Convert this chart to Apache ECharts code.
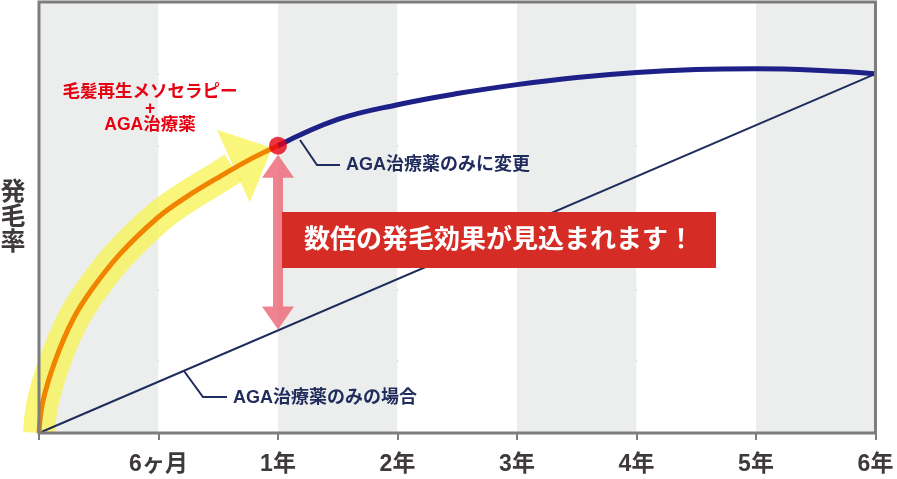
<!DOCTYPE html>
<html><head><meta charset="utf-8">
<script src="https://cdn.jsdelivr.net/npm/echarts@6/dist/echarts.min.js"></script>
<style>html,body{margin:0;padding:0;background:#fff}#c{width:897px;height:479px}</style>
</head><body><div id="c"></div>
<script>
// ---- data (x: 0 = start, 1 = 6ヶ月, 2 = 1年, 3 = 2年 ... 7 = 6年; y: 発毛率 grid units) ----
const tickLabels = ['', '6ヶ月', '1年', '2年', '3年', '4年', '5年', '6年'];
const combinedCurve = [[0,0],[0.03,0.42],[0.134,1.0],[0.284,1.58],[0.443,2.0],[0.677,2.49],[0.995,3.0],[1.237,3.29],[1.513,3.57],[1.789,3.83],[2,4]];
const yellowBand = [[0,0],[0.03,0.42],[0.134,1.0],[0.284,1.58],[0.443,2.0],[0.677,2.49],[0.995,3.0],[1.237,3.29],[1.513,3.57],[1.626,3.69]];
const yellowHead = [[1.488,4.22],[1.95,3.97],[1.764,3.21]];
const afterSwitch = [[2,4],[2.5,4.365],[3,4.57],[3.5,4.725],[4,4.85],[4.5,4.95],[5,5.02],[5.5,5.06],[6,5.07],[6.5,5.05],[7,5]];
const agaOnly = [[0,0],[7,5]];
const switchPoint = [[2,4]];
const gapArrow = [[2,3.875,1.44]];

const FONT = "'Liberation Sans','Noto Sans CJK JP',sans-serif";
const G = {left:39, top:2, right:21.5, bottom:46};
const W = 897, H = 479;

const chart = echarts.init(document.getElementById('c'));
chart.setOption({
  animation: false,
  backgroundColor: '#ffffff',
  grid: {left:G.left, top:G.top, right:G.right, bottom:G.bottom, containLabel:false},
  xAxis: {
    type:'value', min:0, max:7, interval:1,
    axisLine:{show:false},
    axisTick:{show:true, length:7, lineStyle:{color:'#7d7d7d', width:2}},
    axisLabel:{show:true, margin:20, fontSize:23, fontWeight:'bold', color:'#3e3a39', fontFamily:FONT,
      showMinLabel:true, showMaxLabel:true, hideOverlap:false,
      formatter:(v)=>tickLabels[Math.round(v)] || ''},
    splitLine:{show:false},
    splitArea:{show:true, areaStyle:{color:['#eceeed','#ffffff']}}
  },
  yAxis: {
    type:'value', min:0, max:6, interval:1,
    axisLine:{show:false}, axisTick:{show:false}, axisLabel:{show:false},
    splitLine:{show:true, lineStyle:{color:'#8f8f8f', width:2}}
  },
  series: [
    {type:'line', data:yellowBand, smooth:0.35, showSymbol:false, symbol:'none', clip:true,
      lineStyle:{color:'rgba(248,243,80,0.75)', width:32, cap:'butt'}, z:2, silent:true},
    {type:'custom', data:yellowHead, z:2, silent:true,
      renderItem:(params, api)=>{
        if (params.dataIndex !== 0) return null;
        const pts = yellowHead.map(p=>api.coord(p));
        return {type:'polygon', shape:{points:pts}, style:{fill:'rgba(248,243,80,0.75)'}};
      }},
    {type:'line', data:agaOnly, showSymbol:false, symbol:'none',
      lineStyle:{color:'#1f2c5c', width:2}, z:3},
    {type:'line', data:combinedCurve, smooth:0.35, showSymbol:false, symbol:'none',
      lineStyle:{color:'#f08300', width:5}, z:4},
    {type:'line', data:afterSwitch, smooth:0.4, showSymbol:false, symbol:'none',
      lineStyle:{color:'#1d2087', width:5}, z:4},
    {type:'custom', data:gapArrow, encode:{x:0, y:[1,2]}, z:5, silent:true,
      renderItem:(params, api)=>{
        const x = api.value(0);
        const top = api.coord([x, api.value(1)]);
        const bot = api.coord([x, api.value(2)]);
        const cx = top[0], hw = 16, sw = 5, hl = 23;
        const pts = [[cx, top[1]],[cx+hw, top[1]+hl],[cx+sw, top[1]+hl],[cx+sw, bot[1]-hl],[cx+hw, bot[1]-hl],
                     [cx, bot[1]],[cx-hw, bot[1]-hl],[cx-sw, bot[1]-hl],[cx-sw, top[1]+hl],[cx-hw, top[1]+hl]];
        return {type:'polygon', shape:{points:pts}, style:{fill:'rgba(236,104,118,0.82)'}};
      }},
    {type:'scatter', data:switchPoint, symbol:'circle', symbolSize:18,
      itemStyle:{color:'#e60012'}, z:6}
  ],
  graphic: [
    {type:'rect', z:100, silent:true,
      shape:{x:G.left, y:G.top, width:W-G.left-G.right, height:H-G.top-G.bottom},
      style:{fill:'none', stroke:'#7d7d7d', lineWidth:3}},
    {type:'text', z:100, style:{text:'発\n毛\n率', x:13, y:218, align:'center', verticalAlign:'middle',
      fontSize:25, fontWeight:'bold', lineHeight:25, fontFamily:FONT, fill:'#3e3a39'}},
    {type:'text', z:100, style:{text:'毛髪再生メソセラピー\n+\nAGA治療薬', x:150, y:109, align:'center', verticalAlign:'middle',
      fontSize:17.5, fontWeight:'bold', lineHeight:16.5, fontFamily:FONT, fill:'#e60012'}},
    {type:'polyline', z:100, shape:{points:[[300,140],[317,165],[340,165]]}, style:{stroke:'#1f2c5c', lineWidth:2, fill:'none'}},
    {type:'text', z:100, style:{text:'AGA治療薬のみに変更', x:346, y:165, align:'left', verticalAlign:'middle',
      fontSize:18, fontWeight:'bold', fontFamily:FONT, fill:'#1f2c5c'}},
    {type:'polyline', z:100, shape:{points:[[184,371],[203,397],[227,397]]}, style:{stroke:'#1f2c5c', lineWidth:2, fill:'none'}},
    {type:'text', z:100, style:{text:'AGA治療薬のみの場合', x:233, y:398, align:'left', verticalAlign:'middle',
      fontSize:18, fontWeight:'bold', fontFamily:FONT, fill:'#1f2c5c'}},
    {type:'rect', z:100, shape:{x:282, y:212, width:434, height:56}, style:{fill:'#d52d26'}},
    {type:'text', z:101, style:{text:'数倍の発毛効果が見込まれます！', x:499, y:241, align:'center', verticalAlign:'middle',
      fontSize:26, fontWeight:'bold', fontFamily:FONT, fill:'#ffffff'}}
  ]
});
</script>
</body></html>
